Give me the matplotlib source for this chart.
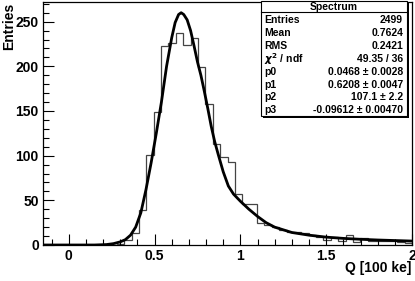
import numpy as np
import matplotlib.pyplot as plt
from matplotlib.patches import Rectangle
from matplotlib.ticker import MultipleLocator

plt.rcParams['font.family'] = ['Liberation Sans', 'DejaVu Sans']
plt.rcParams['font.weight'] = 'bold'

# histogram: 50 bins from -0.15 to 2.0
x_lo, x_hi, n_bins = -0.15, 2.0, 50
counts = [0, 0, 0, 0, 0, 0, 0, 0, 0, 0,
          1, 6, 13, 39, 101, 149, 223, 226, 237, 224,
          232, 199, 158, 113, 99, 93, 57, 46, 46, 25,
          22, 20, 17, 15, 15, 13, 11, 9, 6, 9,
          5, 11, 3, 8, 5, 4, 4, 4, 3, 2]

# fitted curve
fit_x = [-0.15, 0.0, 0.15, 0.22, 0.26, 0.30, 0.33, 0.36, 0.39, 0.42, 0.45,
         0.48, 0.51, 0.54, 0.57, 0.60, 0.62, 0.64, 0.655, 0.67, 0.69, 0.71,
         0.73, 0.75, 0.77, 0.79, 0.81, 0.83, 0.85, 0.87, 0.90, 0.93, 0.96,
         1.00, 1.05, 1.10, 1.15, 1.20, 1.30, 1.40, 1.50, 1.60, 1.70, 1.80,
         1.90, 2.00]
fit_y = [0, 0, 0, 0.5, 1.5, 3.5, 6, 11, 20, 36, 62,
         92, 125, 160, 200, 232, 249, 258, 260, 258, 252, 240,
         223, 205, 190, 172, 153, 133, 116, 102, 82, 66, 57,
         49, 40, 32, 25, 20, 14, 11, 8.8, 7.4, 6.4, 5.6,
         5.0, 4.4]

stat_names = ['Entries', 'Mean', 'RMS', r'$\chi^2$ / ndf', 'p0', 'p1', 'p2', 'p3']
stat_values = ['2499', '0.7624', '0.2421', '49.35 / 36',
               '0.0468 \u00b1 0.0028', '0.6208 \u00b1 0.0047',
               '107.1 \u00b1 2.2', '-0.09612 \u00b1 0.00470']

W, H = 415, 281
fig = plt.figure(figsize=(W / 100, H / 100), dpi=100)
ax = fig.add_axes([43 / W, (H - 245) / H, (412 - 43) / W, (245 - 2) / H])

edges = np.linspace(x_lo, x_hi, n_bins + 1)
ax.stairs(counts, edges, color='#444444', linewidth=0.9)
ax.plot(fit_x, fit_y, color='black', linewidth=2)

ax.set_xlim(x_lo, x_hi)
ax.set_ylim(0, 272)
ax.xaxis.set_major_locator(MultipleLocator(0.5))
ax.xaxis.set_minor_locator(MultipleLocator(0.1))
ax.yaxis.set_major_locator(MultipleLocator(50))
ax.yaxis.set_minor_locator(MultipleLocator(10))
ax.tick_params(which='both', direction='in', top=False, right=False,
               labelsize=10, width=0.8)
ax.tick_params(which='major', length=8, pad=3)
ax.tick_params(which='minor', length=4)
ax.set_xticks([0, 0.5, 1, 1.5, 2])
ax.set_xticklabels(['0', '0.5', '1', '1.5', '2'])
for s in ax.spines.values():
    s.set_linewidth(0.9)

fig.text(2 / W, 1 - 3 / H, 'Entries', rotation=90, ha='left', va='top',
         fontsize=10, fontweight='bold')
fig.text(411 / W, 1 - 268 / H, 'Q [100 ke]', ha='right', va='center',
         fontsize=10, fontweight='bold')

# stats box
bx0, bx1, by0, by1 = 261, 407, 1, 116
fig.patches.append(Rectangle(((bx0 + 2) / W, 1 - (by1 + 2) / H), (bx1 - bx0) / W,
                             (by1 - by0) / H, transform=fig.transFigure,
                             facecolor='black', edgecolor='none', zorder=5))
fig.patches.append(Rectangle((bx0 / W, 1 - by1 / H), (bx1 - bx0) / W,
                             (by1 - by0) / H, transform=fig.transFigure,
                             facecolor='white', edgecolor='black', linewidth=0.8,
                             zorder=6))
fig.add_artist(plt.Line2D([bx0 / W, bx1 / W], [1 - 12 / H, 1 - 12 / H],
                          transform=fig.transFigure, color='black',
                          linewidth=0.8, zorder=7))
fig.text((bx0 + bx1) / 2 / W, 1 - 6.5 / H, 'Spectrum', ha='center', va='center',
         fontsize=7.5, fontweight='bold', zorder=8)
for i, (nm, val) in enumerate(zip(stat_names, stat_values)):
    yy = 1 - (20 + 12.9 * i) / H
    fig.text((bx0 + 3) / W, yy, nm, ha='left', va='center', fontsize=7.5,
             fontweight='bold', zorder=8)
    fig.text((bx1 - 4) / W, yy, val, ha='right', va='center', fontsize=7.5,
             fontweight='bold', zorder=8)

fig.savefig('out.png', dpi=100)
